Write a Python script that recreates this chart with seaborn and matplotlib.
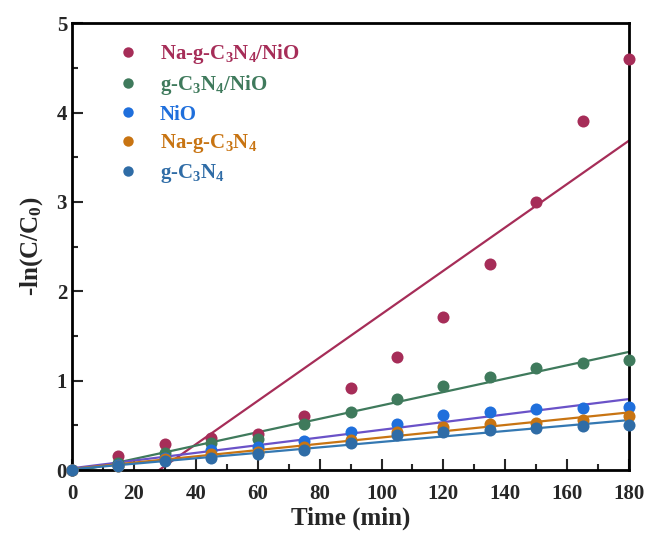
import numpy as np
import matplotlib
matplotlib.use("Agg")
import matplotlib.pyplot as plt
from matplotlib.lines import Line2D
import seaborn as sns

# Time points (min)
time = [0, 15, 30, 45, 60, 75, 90, 105, 120, 135, 150, 165, 180]

# -ln(C/C0)
na_gcn_nio = [0, 0.16, 0.29, 0.36, 0.40, 0.60, 0.92, 1.27, 1.71, 2.30, 3.00, 3.91, 4.60]
gcn_nio = [0, 0.08, 0.19, 0.30, 0.35, 0.51, 0.65, 0.79, 0.94, 1.04, 1.14, 1.20, 1.23]
nio = [0, 0.06, 0.13, 0.22, 0.26, 0.33, 0.43, 0.52, 0.62, 0.65, 0.68, 0.69, 0.70]
na_gcn = [0, 0.05, 0.12, 0.18, 0.20, 0.26, 0.34, 0.42, 0.48, 0.52, 0.53, 0.56, 0.61]
gcn = [0, 0.04, 0.10, 0.13, 0.18, 0.22, 0.30, 0.39, 0.42, 0.45, 0.47, 0.49, 0.50]

labels = [r"Na-g-C$_3$N$_4$/NiO", r"g-C$_3$N$_4$/NiO", "NiO",
          r"Na-g-C$_3$N$_4$", r"g-C$_3$N$_4$"]
series = [na_gcn_nio, gcn_nio, nio, na_gcn, gcn]
point_colors = ["#a62d58", "#3f7a5c", "#1f6fdc", "#c87412", "#2f6ca6"]
line_colors = ["#a62d58", "#3f7a5c", "#6a52c8", "#c87412", "#3478b2"]

sns.set_style("ticks")
plt.rcParams["font.family"] = ["Liberation Serif", "DejaVu Serif"]
plt.rcParams["font.weight"] = "bold"
plt.rcParams["mathtext.fontset"] = "custom"
plt.rcParams["mathtext.rm"] = "Liberation Serif:bold"
plt.rcParams["mathtext.it"] = "Liberation Serif:bold"
plt.rcParams["mathtext.bf"] = "Liberation Serif:bold"

fig = plt.figure(figsize=(6.54, 5.4), dpi=100)
ax = fig.add_axes([0.110, 0.1296, 0.852, 0.8274])

for y, pc, lc in zip(series, point_colors, line_colors):
    sns.regplot(x=time, y=y, ax=ax, ci=None, truncate=False,
                scatter_kws=dict(s=75, color=pc, alpha=1, linewidths=0, zorder=3, clip_on=False),
                line_kws=dict(color=lc, lw=1.6, zorder=2))

ax.set_xlim(0, 180)
ax.set_ylim(0, 5)
ax.set_xticks(np.arange(0, 181, 20))
ax.set_xticks(np.arange(0, 181, 10), minor=True)
ax.set_yticks(np.arange(0, 6, 1))
ax.set_yticks(np.arange(0, 5.1, 0.5), minor=True)
ax.tick_params(which="major", direction="in", length=8, width=1.5, labelsize=15)
ax.tick_params(axis="x", which="major", pad=10)
ax.tick_params(which="minor", direction="in", length=4, width=1.5)
for s in ax.spines.values():
    s.set_linewidth(2)
    s.set_color("black")

ax.set_xlabel("Time (min)", fontsize=18, fontweight="bold", labelpad=2)
ax.set_ylabel(r"-ln(C/C$_0$)", fontsize=18, fontweight="bold", labelpad=8)

handles = [Line2D([], [], ls="", marker="o", ms=7.5, color=c, mec="none")
           for c in point_colors]
leg = ax.legend(handles, labels, loc="upper left", bbox_to_anchor=(0.049, 1.0),
                frameon=False, fontsize=15, handletextpad=1.0, labelspacing=0.35,
                handlelength=1.0)
for t, c in zip(leg.get_texts(), point_colors):
    t.set_color(c)

fig.savefig("out.png", dpi=100)
